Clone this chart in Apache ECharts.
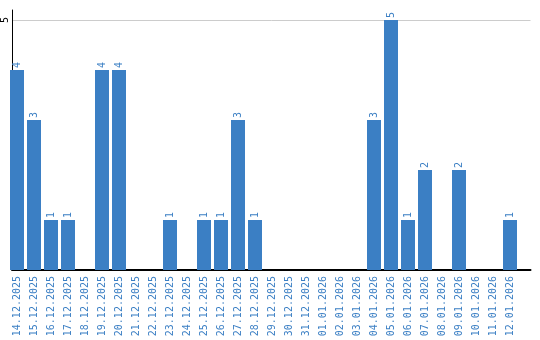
<!DOCTYPE html>
<html><head><meta charset="utf-8">
<script src="https://cdn.jsdelivr.net/npm/echarts@6/dist/echarts.min.js"></script>
<style>html,body{margin:0;padding:0;background:#fff}#c{width:540px;height:340px}</style>
</head><body><div id="c"></div>
<script>
const categories = ["14.12.2025","15.12.2025","16.12.2025","17.12.2025","18.12.2025","19.12.2025","20.12.2025","21.12.2025","22.12.2025","23.12.2025","24.12.2025","25.12.2025","26.12.2025","27.12.2025","28.12.2025","29.12.2025","30.12.2025","31.12.2025","01.01.2026","02.01.2026","03.01.2026","04.01.2026","05.01.2026","06.01.2026","07.01.2026","08.01.2026","09.01.2026","10.01.2026","11.01.2026","12.01.2026"];
const values = [4,3,1,1,0,4,4,0,0,1,0,1,1,3,1,0,0,0,0,0,0,3,5,1,2,0,2,0,0,1];
const yTicks = [5];
const blue = '#3b7fc4';
const font = 'DejaVu Sans Mono';
const chart = echarts.init(document.getElementById('c'));
chart.setOption({
  animation:false,
  grid:[
    {left:8.5,right:21.5,top:10,bottom:70,containLabel:false},
    {left:10,right:9.5,top:10,bottom:70,containLabel:false}
  ],
  xAxis:[
    {type:'category',data:categories,gridIndex:0,
      axisLine:{show:false},
      axisTick:{show:false},
      axisLabel:{rotate:90,color:blue,fontFamily:font,fontSize:10,interval:0,margin:6}},
    {type:'value',gridIndex:1,min:0,max:1,
      axisLine:{show:true,onZero:false,lineStyle:{color:'#000',width:2}},
      axisTick:{show:false},axisLabel:{show:false},splitLine:{show:false}}
  ],
  yAxis:[
    {type:'value',gridIndex:0,min:0,max:5.2,interval:5,show:false,splitLine:{show:false}},
    {type:'value',gridIndex:1,min:0,max:5.2,interval:5,
      axisLine:{show:true,lineStyle:{color:'#000',width:1}},
      axisTick:{show:false},
      splitLine:{lineStyle:{color:['rgba(0,0,0,0)','#ccc','rgba(0,0,0,0)'],width:1}},
      axisLabel:{rotate:90,color:'#000',fontFamily:font,fontSize:10,margin:2,
        formatter:v=>yTicks.includes(v)?String(v):''}}
  ],
  series:[{type:'bar',data:values,xAxisIndex:0,yAxisIndex:0,barWidth:14,
    itemStyle:{color:blue},z:3,
    label:{show:true,position:'top',rotate:90,align:'left',verticalAlign:'middle',distance:2,
      color:blue,fontFamily:font,fontSize:10,
      formatter:p=>p.value?String(p.value):''}}]
});
</script></body></html>
